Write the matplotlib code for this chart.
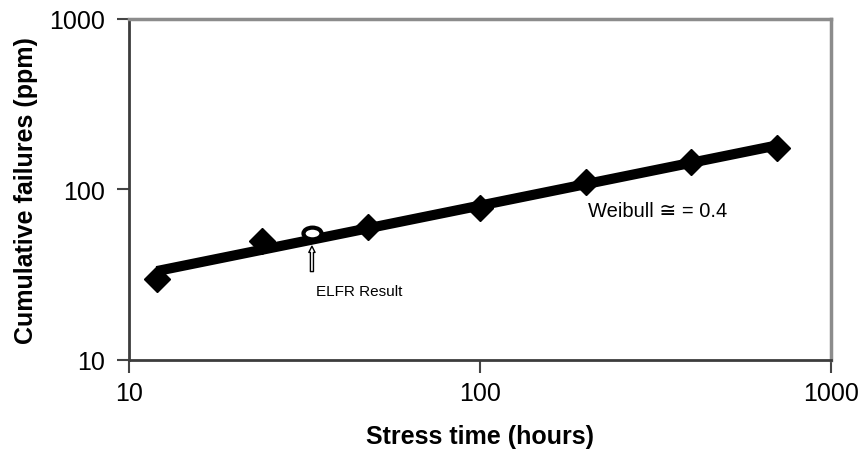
import numpy as np
import matplotlib
matplotlib.use("Agg")
import matplotlib.pyplot as plt
from matplotlib.path import Path
from matplotlib.transforms import Affine2D

plt.rcParams['font.family'] = ['Liberation Sans', 'DejaVu Sans']

# Data
stress_hours = [12, 24, 48, 100, 200, 400, 700]
failures_ppm = [30, 50, 60, 78, 110, 145, 175]

elfr_hours = 33.2
elfr_ppm = 55.5

weibull_text = "Weibull \u2245 = 0.4"
elfr_text = "ELFR Result"
x_ticks = [10, 100, 1000]
y_ticks = [10, 100, 1000]


def main():
    fig = plt.figure(figsize=(8.63, 4.64), dpi=100)
    ax = fig.add_axes([0.1495, 0.222, 0.8134, 0.735])

    # power law trend line (straight on log-log), like an Excel trendline
    lx = np.log10(stress_hours)
    ly = np.log10(failures_ppm)
    slope, icpt = np.polyfit(lx, ly, 1)
    fit_x = np.array([stress_hours[0], stress_hours[-1]])
    fit_y = 10 ** (icpt + slope * np.log10(fit_x))
    ax.plot(fit_x, fit_y, color='black', lw=7.3, solid_capstyle='butt', zorder=3)

    ax.plot(stress_hours, failures_ppm, linestyle='none', marker='D', ms=13,
            color='black', zorder=4)

    # ELFR result: an open ellipse with a hollow arrow underneath
    oval = Path.unit_circle().transformed(Affine2D().scale(1.0, 0.65))
    ax.plot([elfr_hours], [elfr_ppm], linestyle='none', marker=oval, ms=13,
            mfc='white', mec='black', mew=3, zorder=5)
    ax.annotate('', xy=(elfr_hours, 46.5), xytext=(elfr_hours, 33.0),
                arrowprops=dict(arrowstyle='simple,head_width=0.45,head_length=0.45,tail_width=0.22',
                                fc='white', ec='black', lw=1.0, shrinkA=0, shrinkB=0), zorder=5)
    ax.text(34.0, 25.4, elfr_text, fontsize=11, ha='left', va='center')

    ax.text(203, 74.8, weibull_text, fontsize=14.5, ha='left', va='center')

    ax.set_xscale('log')
    ax.set_yscale('log')
    ax.set_xlim(10, 1000)
    ax.set_ylim(10, 1000)
    ax.set_xticks(x_ticks)
    ax.set_yticks(y_ticks)
    ax.set_xticklabels([str(t) for t in x_ticks])
    ax.set_yticklabels([str(t) for t in y_ticks])
    ax.minorticks_off()
    ax.tick_params(axis='both', direction='out', length=9, width=1.5, color='#444444',
                   labelsize=18, pad=8)
    ax.tick_params(axis='x', pad=6)

    ax.set_xlabel('Stress time (hours)', fontsize=18, fontweight='bold', labelpad=14)
    ax.set_ylabel('Cumulative failures (ppm)', fontsize=18, fontweight='bold', labelpad=8)

    for side in ['top', 'right']:
        ax.spines[side].set_color('#8c8c8c')
        ax.spines[side].set_linewidth(2.5)
    for side in ['left', 'bottom']:
        ax.spines[side].set_color('#3c3c3c')
        ax.spines[side].set_linewidth(2)

    fig.savefig('out.png', dpi=100)


if __name__ == '__main__':
    main()
